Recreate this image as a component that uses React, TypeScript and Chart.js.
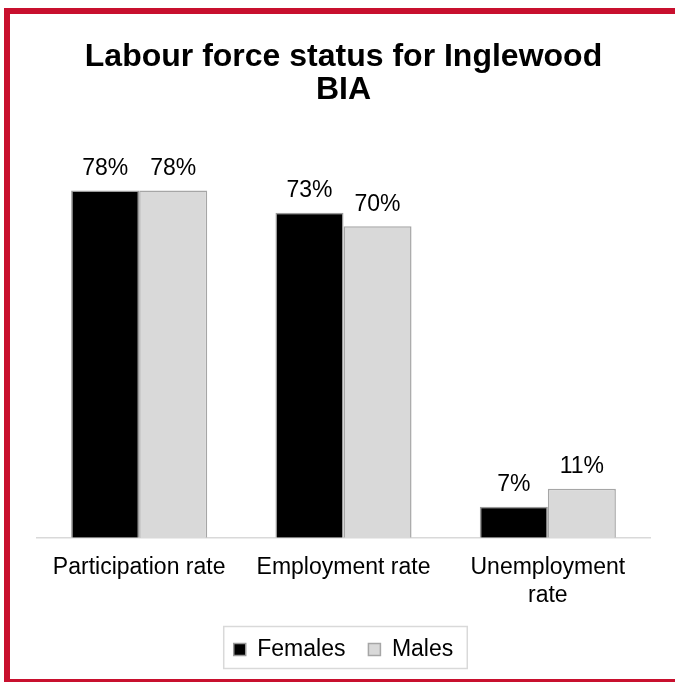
import React, { useEffect, useRef } from 'react';
import { Chart, registerables } from 'chart.js';

Chart.register(...registerables);

const categories: (string | string[])[] = ['Participation rate', 'Employment rate', ['Unemployment', 'rate']];
const females = [78, 73, 7];
const males = [78, 70, 11];
const seriesNames = ['Females', 'Males'];
const titleLines = ['Labour force status for Inglewood', 'BIA'];

const FONT = "'Liberation Sans', Arial, sans-serif";

const valueLabels = {
  id: 'valueLabels',
  afterDatasetsDraw(chart: any) {
    const ctx = chart.ctx;
    ctx.save();
    ctx.font = `23px ${FONT}`;
    ctx.fillStyle = '#000';
    ctx.textAlign = 'center';
    ctx.textBaseline = 'middle';
    chart.data.datasets.forEach((ds: any, i: number) => {
      const meta = chart.getDatasetMeta(i);
      meta.data.forEach((el: any, j: number) => {
        ctx.fillText(`${ds.data[j]}%`, el.x, el.y - 22);
      });
    });
    ctx.restore();
  },
};

const legendFrame = {
  id: 'legendFrame',
  afterDraw(chart: any) {
    const boxes = chart.legend && chart.legend.legendHitBoxes;
    if (!boxes || !boxes.length) return;
    const first = boxes[0];
    const last = boxes[boxes.length - 1];
    const cy = first.top + first.height / 2;
    const left = first.left - 10;
    const right = last.left + last.width + 14;
    const top = cy - 23;
    const bottom = cy + 19;
    const ctx = chart.ctx;
    ctx.save();
    ctx.strokeStyle = '#d9d9d9';
    ctx.lineWidth = 1.5;
    ctx.strokeRect(left, top, right - left, bottom - top);
    ctx.restore();
  },
};

export default function App() {
  const ref = useRef<HTMLCanvasElement>(null);

  useEffect(() => {
    if (!ref.current) return;
    const chart = new Chart(ref.current, {
      type: 'bar',
      data: {
        labels: categories as any,
        datasets: [
          {
            label: seriesNames[0],
            data: females,
            backgroundColor: '#000000',
            borderColor: '#9a9a9a',
            borderWidth: 1.5,
            barPercentage: 1,
            categoryPercentage: 0.666,
          },
          {
            label: seriesNames[1],
            data: males,
            backgroundColor: '#d9d9d9',
            borderColor: '#a6a6a6',
            borderWidth: 1.5,
            barPercentage: 1,
            categoryPercentage: 0.666,
          },
        ],
      },
      options: {
        animation: false,
        responsive: false,
        maintainAspectRatio: false,
        devicePixelRatio: 1,
        layout: { padding: { left: 37, right: 25, top: 0, bottom: 11 } },
        plugins: {
          title: {
            display: true,
            text: titleLines,
            color: '#000',
            font: { family: FONT, size: 32, weight: 'bold', lineHeight: 1.05 },
            padding: { top: 40, bottom: 30 },
          },
          legend: {
            display: true,
            position: 'bottom',
            labels: {
              color: '#000',
              font: { family: FONT, size: 23 },
              boxWidth: 12,
              boxHeight: 12,
              padding: 23,
            },
          },
          tooltip: { enabled: false },
        },
        scales: {
          x: {
            grid: { display: false, drawTicks: false },
            border: { display: true, color: '#d9d9d9', width: 1.5 },
            ticks: {
              color: '#000',
              font: { family: FONT, size: 23, lineHeight: 1.2 },
              padding: 16,
              maxRotation: 0,
              autoSkip: false,
            },
            afterFit(scale: any) {
              scale.height -= 10;
            },
          },
          y: {
            display: false,
            min: 0,
            max: 90,
          },
        },
      },
      plugins: [valueLabels, legendFrame],
    } as any);
    return () => chart.destroy();
  }, []);

  return (
    <div style={{ position: 'fixed', left: 0, top: 0, width: 675, height: 682, background: '#fff', overflow: 'hidden' }}>
      <canvas ref={ref} width={675} height={682} style={{ position: 'absolute', left: 0, top: 0 }} />
      <div style={{ position: 'absolute', left: 4, top: 8, width: 6, height: 674, background: '#C8102E' }} />
      <div style={{ position: 'absolute', left: 4, top: 8, width: 671, height: 6, background: '#C8102E' }} />
      <div style={{ position: 'absolute', left: 4, top: 679, width: 671, height: 3, background: '#C8102E' }} />
    </div>
  );
}
